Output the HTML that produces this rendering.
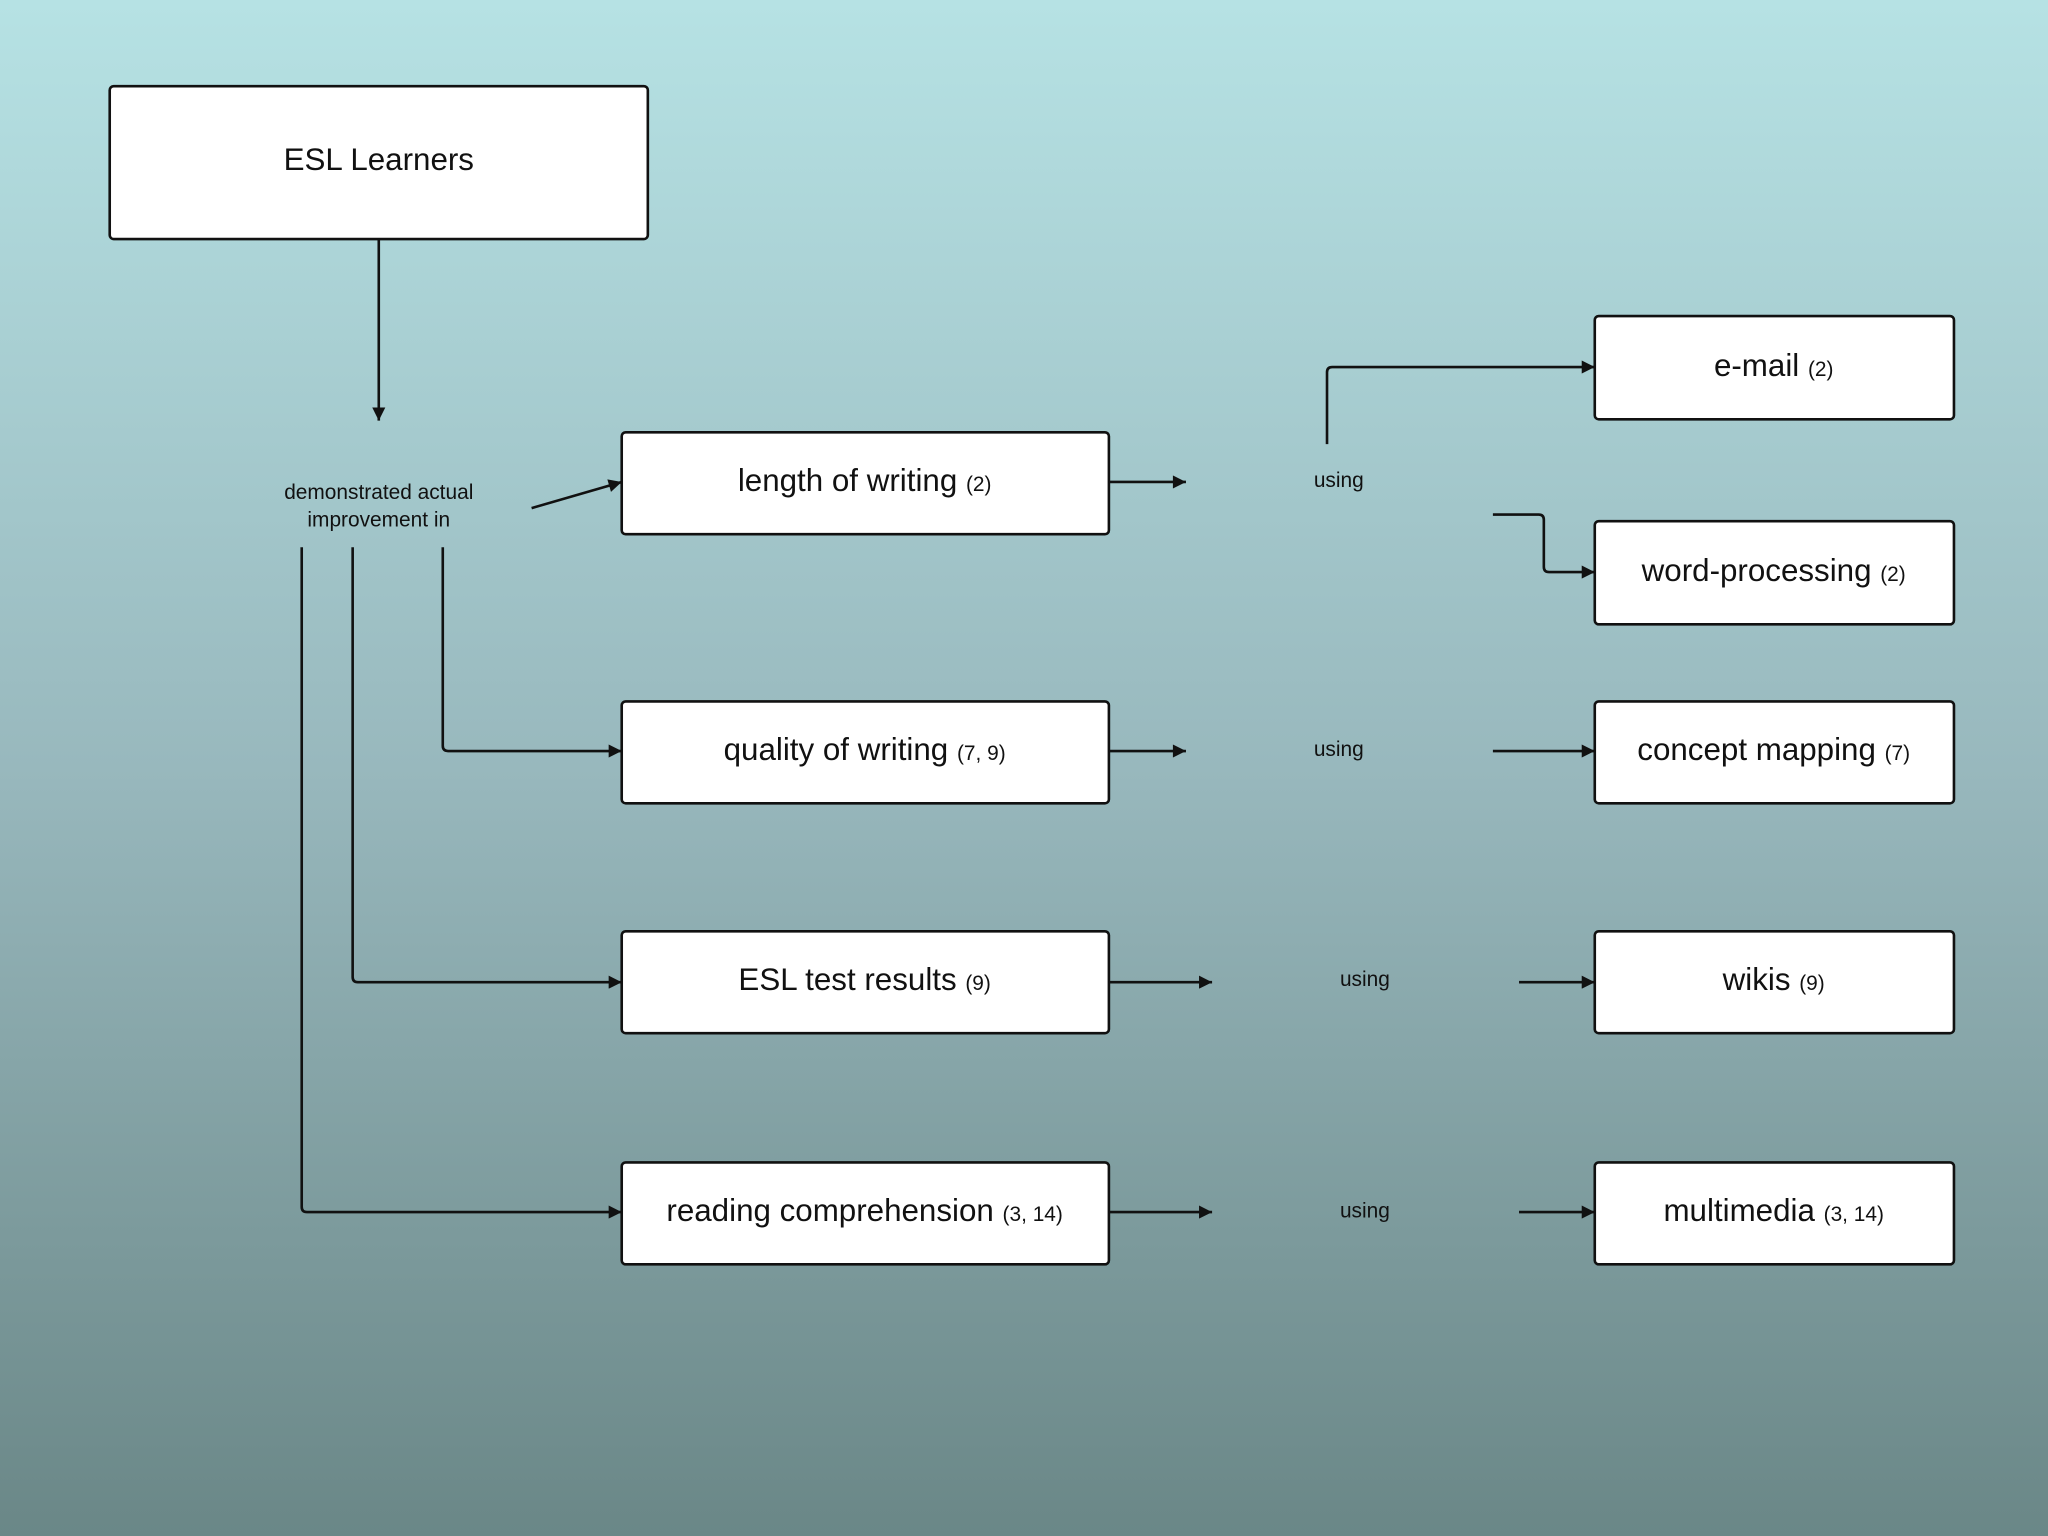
<!DOCTYPE html>
<html><head><meta charset="utf-8"><style>
html,body{margin:0;padding:0;width:2048px;height:1536px;overflow:hidden}
svg{display:block}
text{font-family:"Liberation Sans",sans-serif;fill:#111}
</style></head><body>
<svg width="2048" height="1536" viewBox="0 0 1568 1176" xmlns="http://www.w3.org/2000/svg">
<defs>
<linearGradient id="bg" x1="0" y1="0" x2="0" y2="1">
<stop offset="0" stop-color="#b6e2e4"/>
<stop offset="0.5" stop-color="#98b8bd"/>
<stop offset="1" stop-color="#6a8787"/>
</linearGradient>
<marker id="a" viewBox="0 0 10 10" refX="10" refY="5" markerWidth="16" markerHeight="10" markerUnits="userSpaceOnUse" orient="auto"><path d="M0,0L10,5L0,10z" fill="#111"/></marker>
</defs>
<rect width="1568" height="1176" fill="url(#bg)"/>
<g fill="#fff" stroke="#111" stroke-width="2">
<rect x="84" y="66" width="412" height="117" rx="3"/>
<rect x="476" y="331" width="373" height="78" rx="3"/>
<rect x="476" y="537" width="373" height="78" rx="3"/>
<rect x="476" y="713" width="373" height="78" rx="3"/>
<rect x="476" y="890" width="373" height="78" rx="3"/>
<rect x="1221" y="242" width="275" height="79" rx="3"/>
<rect x="1221" y="399" width="275" height="79" rx="3"/>
<rect x="1221" y="537" width="275" height="78" rx="3"/>
<rect x="1221" y="713" width="275" height="78" rx="3"/>
<rect x="1221" y="890" width="275" height="78" rx="3"/>
</g>
<g fill="none" stroke="#111" stroke-width="2" marker-end="url(#a)">
<path d="M290,183V322"/>
<path d="M407,389L476,369"/>
<path d="M339,419V571q0,4 4,4H476"/>
<path d="M270,419V748q0,4 4,4H476"/>
<path d="M231,419V924q0,4 4,4H476"/>
<path d="M849,369H908"/>
<path d="M849,575H908"/>
<path d="M849,752H928"/>
<path d="M849,928H928"/>
<path d="M1016,340V285q0,-4 4,-4H1221"/>
<path d="M1143,394H1178q4,0 4,4V434q0,4 4,4H1221"/>
<path d="M1143,575H1221"/>
<path d="M1163,752H1221"/>
<path d="M1163,928H1221"/>
</g>
<g text-anchor="middle" font-size="24">
<text x="290" y="130">ESL Learners</text>
<text x="662" y="376">length of writing <tspan font-size="16">(2)</tspan></text>
<text x="662" y="582">quality of writing <tspan font-size="16">(7, 9)</tspan></text>
<text x="662" y="758">ESL test results <tspan font-size="16">(9)</tspan></text>
<text x="662" y="935">reading comprehension <tspan font-size="16">(3, 14)</tspan></text>
<text x="1358" y="288">e-mail <tspan font-size="16">(2)</tspan></text>
<text x="1358" y="445">word-processing <tspan font-size="16">(2)</tspan></text>
<text x="1358" y="582">concept mapping <tspan font-size="16">(7)</tspan></text>
<text x="1358" y="758">wikis <tspan font-size="16">(9)</tspan></text>
<text x="1358" y="935">multimedia <tspan font-size="16">(3, 14)</tspan></text>
</g>
<g text-anchor="middle" font-size="16">
<text x="290" y="382">demonstrated actual</text>
<text x="290" y="403">improvement in</text>
<text x="1025" y="373">using</text>
<text x="1025" y="579">using</text>
<text x="1045" y="755">using</text>
<text x="1045" y="932">using</text>
</g>
</svg>
</body></html>
